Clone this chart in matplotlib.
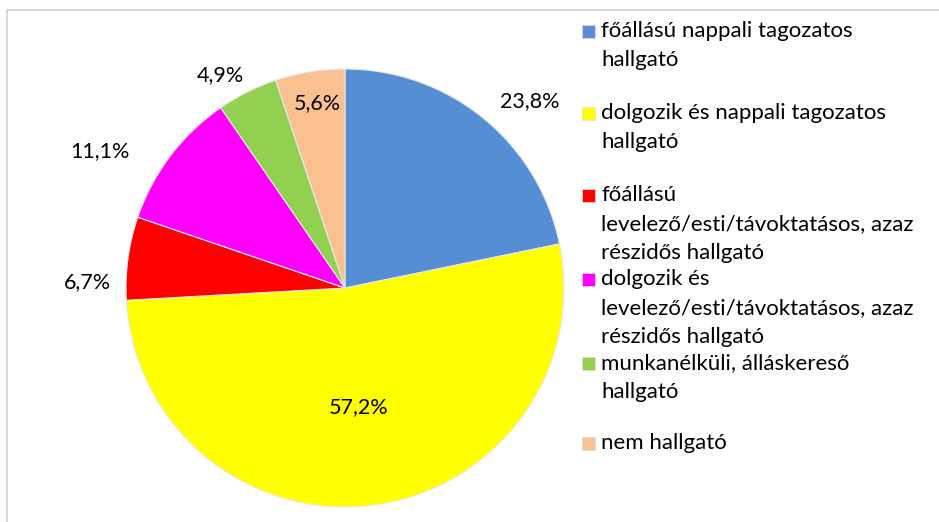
import matplotlib.pyplot as plt
from matplotlib.patches import Rectangle
from matplotlib.lines import Line2D

plt.rcParams['font.family'] = ['Lato', 'DejaVu Sans']

# data
labels = [
    "főállású nappali tagozatos\nhallgató",
    "dolgozik és nappali tagozatos\nhallgató",
    "főállású\nlevelező/esti/távoktatásos, azaz\nrészidős hallgató",
    "dolgozik és\nlevelező/esti/távoktatásos, azaz\nrészidős hallgató",
    "munkanélküli, álláskereső\nhallgató",
    "nem hallgató",
]
values = [23.8, 57.2, 6.7, 11.1, 4.9, 5.6]
value_labels = ["23,8%", "57,2%", "6,7%", "11,1%", "4,9%", "5,6%"]
colors = ["#558ED5", "#FFFF00", "#FF0000", "#FF00FF", "#92D050", "#FAC090"]

# layout: label positions (in pie radius units) and legend rows (pixels from top)
label_pos = [(0.845, 0.854), (0.064, -0.543), (-1.174, 0.027),
             (-1.119, 0.626), (-0.571, 0.973), (-0.128, 0.845)]
legend_y = [31, 113, 195, 279, 363, 443]

W, H = 939, 522
fig = plt.figure(figsize=(W / 100, H / 100), dpi=100)

# outer frame (cropped chart area border)
fig.add_artist(Line2D([7 / W, 7 / W], [0, 1 - 9.5 / H], color="#D9D9D9", lw=1.5))
fig.add_artist(Line2D([7 / W, 1], [1 - 9.5 / H, 1 - 9.5 / H], color="#D9D9D9", lw=1.5))

cx, cy, R = 345, 288, 219
ax = fig.add_axes([(cx - R) / W, (H - cy - R) / H, 2 * R / W, 2 * R / H])
ax.pie(values, colors=colors, startangle=90, counterclock=False,
       wedgeprops=dict(edgecolor="#E8E8E8", linewidth=0.8))
ax.set_xlim(-1, 1)
ax.set_ylim(-1, 1)
ax.set_aspect("auto")
ax.axis("off")

for (x, y), t in zip(label_pos, value_labels):
    ax.text(x, y, t, ha="center", va="center", fontsize=15.5, color="black",
            clip_on=False)

# legend drawn by hand to follow the original line breaks
for y, lab, c in zip(legend_y, labels, colors):
    fig.add_artist(Rectangle((582 / W, 1 - (y + 6.5) / H), 12.5 / W, 12.5 / H,
                             transform=fig.transFigure, facecolor=c,
                             edgecolor="#DDDDDD", lw=0.5))
    for i, line in enumerate(lab.split("\n")):
        fig.text(601 / W, 1 - (y + 29 * i) / H, line, ha="left", va="center",
                 fontsize=16, color="black")

fig.savefig("out.png", dpi=100)
